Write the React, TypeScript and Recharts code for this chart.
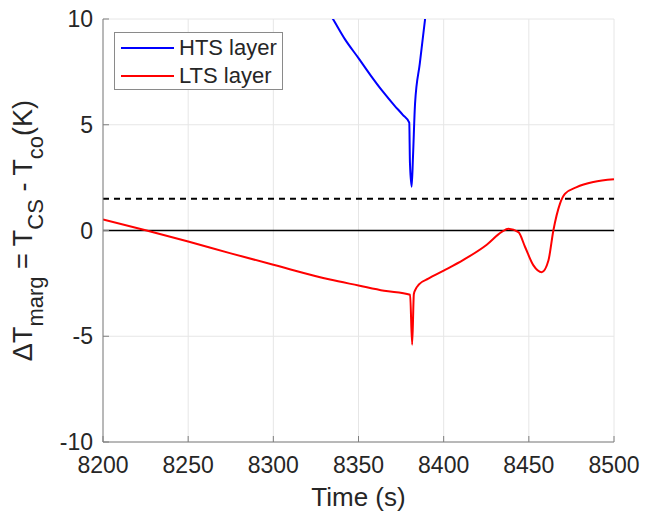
import React from 'react';
import { LineChart, Line, XAxis, YAxis, CartesianGrid, ReferenceLine, Legend } from 'recharts';

// time ticks and margin ticks
const timeTicks = [8200, 8250, 8300, 8350, 8400, 8450, 8500];
const marginTicks = [-10, -5, 0, 5, 10];

// HTS layer (blue) – goes off the top of the axes
const htsTime = [8328, 8335, 8342, 8350, 8357, 8364, 8371, 8376, 8379.8, 8380.2, 8381.2, 8382.0, 8383.2, 8386, 8389.1, 8392];
const htsValue = [10.9, 10.0, 9.05, 8.15, 7.35, 6.6, 5.92, 5.47, 5.1, 3.2, 2.07, 3.5, 6.0, 7.9, 10.0, 11.8];

// LTS layer (red)
const ltsTime = [8200, 8225.6, 8250, 8275, 8300, 8333.3, 8350, 8365, 8380.3, 8381.5, 8382.5, 8383.5, 8385.5, 8391, 8400, 8411.6, 8425.3, 8434.1, 8438, 8443.9, 8447.8, 8452.7, 8457.6, 8461.5, 8464.4, 8468.3, 8471.3, 8478.1, 8487.9, 8500];
const ltsValue = [0.52, 0, -0.52, -1.08, -1.62, -2.32, -2.6, -2.85, -3.04, -5.4, -3.0, -2.78, -2.55, -2.28, -1.9, -1.39, -0.67, -0.07, 0.08, -0.08, -0.78, -1.65, -1.97, -1.42, 0, 1.27, 1.74, 2.05, 2.29, 2.42];

const htsData = htsTime.map((t, i) => ({ t, v: htsValue[i] }));
const ltsData = ltsTime.map((t, i) => ({ t, v: ltsValue[i] }));

const font = '"Liberation Sans", Arial, Helvetica, sans-serif';
const axisColor = '#7f7f7f';

const YTitle = (props: any) => {
    const vb = props.viewBox;
    const x = 32;
    const y = vb.y + vb.height / 2;
    return (
        <text x={x} y={y} transform={`rotate(-90, ${x}, ${y})`} textAnchor="middle"
            fontSize={27} fill="#262626" fontFamily={font} style={{ whiteSpace: 'pre' }}>
            <tspan>ΔT</tspan>
            <tspan fontSize={22} dy={11}>marg</tspan>
            <tspan dy={-11}> = T</tspan>
            <tspan fontSize={22} dy={11}>CS</tspan>
            <tspan dy={-11}> - T</tspan>
            <tspan fontSize={22} dy={11}>co</tspan>
            <tspan dy={-11}>(K)</tspan>
        </text>
    );
};

const XTitle = (props: any) => {
    const vb = props.viewBox;
    return (
        <text x={vb.x + vb.width / 2} y={vb.y + 64} textAnchor="middle" fontSize={26}
            fill="#262626" fontFamily={font}>
            Time (s)
        </text>
    );
};

const LegendBox = () => (
    <div style={{
        width: 167, height: 56, border: '1px solid #8a8a8a', background: '#fff',
        fontFamily: font, fontSize: 22, color: '#262626', boxSizing: 'content-box',
    }}>
        {[{ name: 'HTS layer', color: '#0000ff' }, { name: 'LTS layer', color: '#ff0000' }].map((item) => (
            <div key={item.name} style={{ display: 'flex', alignItems: 'center', height: 27, marginTop: 1 }}>
                <div style={{ width: 53, height: 2, background: item.color, marginLeft: 6, marginRight: 5 }} />
                <span style={{ lineHeight: '27px' }}>{item.name}</span>
            </div>
        ))}
    </div>
);

const App: React.FC = () => {
    return (
        <div style={{ position: 'absolute', left: 0, top: 0, width: 645, height: 512, background: '#fff' }}>
            <LineChart width={645} height={512} margin={{ top: 19, right: 31, left: 43, bottom: 30 }}>
                <CartesianGrid stroke="#e6e6e6" strokeWidth={1} />
                <XAxis dataKey="t" type="number" domain={[8200, 8500]} ticks={timeTicks} allowDataOverflow
                    height={40} stroke={axisColor} tickSize={-6} tickMargin={21}
                    tick={{ fill: '#262626', fontSize: 23, fontFamily: font }}
                    label={<XTitle />} />
                <XAxis xAxisId="top" orientation="top" type="number" domain={[8200, 8500]} ticks={timeTicks}
                    height={0} stroke={axisColor} tickSize={-6} tick={false} />
                <YAxis type="number" domain={[-10, 10]} ticks={marginTicks} allowDataOverflow
                    width={60} stroke={axisColor} tickSize={-6} tickMargin={16}
                    tick={{ fill: '#262626', fontSize: 23, fontFamily: font }}
                    label={<YTitle />} />
                <YAxis yAxisId="right" orientation="right" type="number" domain={[-10, 10]} ticks={marginTicks}
                    width={0} stroke={axisColor} tickSize={-6} tick={false} />
                <ReferenceLine y={0} stroke="#000" strokeWidth={1.6} />
                <ReferenceLine y={1.5} stroke="#000" strokeWidth={2} strokeDasharray="6 5" />
                <Line data={htsData} dataKey="v" type="monotone" stroke="#0000ff" strokeWidth={2}
                    dot={false} isAnimationActive={false} name="HTS layer" />
                <Line data={ltsData} dataKey="v" type="monotone" stroke="#ff0000" strokeWidth={2}
                    dot={false} isAnimationActive={false} name="LTS layer" />
                <Legend layout="vertical" align="center" verticalAlign="middle"
                    wrapperStyle={{ left: 114, top: 32, width: 'auto' }} content={<LegendBox />} />
            </LineChart>
        </div>
    );
};

export default App;
